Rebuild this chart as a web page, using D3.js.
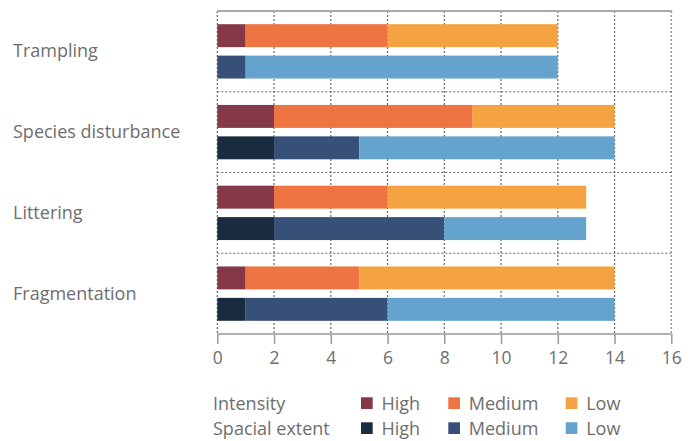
<!DOCTYPE html>
<html><head><meta charset="utf-8">
<script src="https://cdn.jsdelivr.net/npm/d3@7"></script>
<style>
html,body{margin:0;padding:0;background:#fff;}
svg{display:block;font-family:"Open Sans",sans-serif;}
</style></head>
<body>
<svg id="chart" width="691" height="441"></svg>
<script>
const categories = ["Trampling","Species disturbance","Littering","Fragmentation"];
const seriesNames = ["Intensity","Spacial extent"];
const levels = ["High","Medium","Low"];
// values per category: [High, Medium, Low]
const intensityValues = [[1,5,6],[2,7,5],[2,4,7],[1,4,9]];
const spatialValues = [[0,1,11],[2,3,9],[2,6,5],[1,5,8]];
const xTicks = [0,2,4,6,8,10,12,14,16];
const intensityColors = ["#843848","#EE7442","#F5A342"];
const spatialColors = ["#1A2C40","#375078","#63A3CD"];

const svg = d3.select("#chart");
const m = {left:217.3, right:691-671.3, top:11, bottom:441-334};
const W = 691, H = 441;
const x = d3.scaleLinear().domain([0,16]).range([m.left, W-m.right]);
const y = d3.scaleBand().domain(categories).range([m.top, H-m.bottom]).padding(0);
const yi = d3.scaleBand().domain(seriesNames).range([0, y.bandwidth()]).paddingInner(0.27).paddingOuter(0.42);
const textColor = "#6e6e6e";

// vertical grid
svg.append("g").selectAll("line").data(xTicks).join("line")
  .attr("x1", d=>x(d)).attr("x2", d=>x(d))
  .attr("y1", m.top).attr("y2", H-m.bottom)
  .attr("stroke", d=> d===16 ? "#999" : "#666").attr("stroke-width", d=> d===16?1.5:1.2)
  .attr("stroke-dasharray","2,2");

// horizontal separators
svg.append("g").selectAll("line").data(categories.slice(1)).join("line")
  .attr("x1", x(0)).attr("x2", x(16)+1)
  .attr("y1", d=>y(d)).attr("y2", d=>y(d))
  .attr("stroke","#666").attr("stroke-width",1.2).attr("stroke-dasharray","2,2");

// top line
svg.append("line").attr("x1", x(0)).attr("x2", x(16)+1)
  .attr("y1", m.top).attr("y2", m.top).attr("stroke","#aaa").attr("stroke-width",2);

// bars
function stackRows(vals){
  return vals.map(v=>{let s=0; return v.map(d=>{const r=[s,s+d]; s+=d; return r;});});
}
const groups = [
  {name:seriesNames[0], stacks:stackRows(intensityValues), colors:intensityColors},
  {name:seriesNames[1], stacks:stackRows(spatialValues), colors:spatialColors}
];
groups.forEach(g=>{
  categories.forEach((c,ci)=>{
    svg.append("g").selectAll("rect").data(g.stacks[ci]).join("rect")
      .attr("x", d=>x(d[0])).attr("width", d=>x(d[1])-x(d[0]))
      .attr("y", y(c)+yi(g.name)).attr("height", yi.bandwidth())
      .attr("fill", (d,i)=>g.colors[i]);
  });
});

// x axis
const ax = svg.append("g").attr("transform",`translate(0,${H-m.bottom})`)
  .call(d3.axisBottom(x).tickValues(xTicks).tickSize(10).tickPadding(8).tickFormat(d3.format("d")));
ax.select(".domain").attr("stroke","#999").attr("stroke-width",1.5).attr("d",`M${x(0)},0H${x(16)}`);
ax.selectAll(".tick line").attr("stroke","#999").attr("stroke-width",1.5);
ax.selectAll(".tick text").attr("fill",textColor).attr("font-size",17.5).attr("font-family","'Open Sans',sans-serif");

// category labels
svg.append("g").selectAll("text").data(categories).join("text")
  .attr("x",13).attr("y", d=>y(d)+y.bandwidth()/2+6)
  .attr("fill",textColor).attr("font-size",18).text(d=>d);

// legend
const legY = [410, 435];
const legCols = [361, 448.3, 565.7];
const legColors = [intensityColors, spatialColors];
seriesNames.forEach((s,si)=>{
  svg.append("text").attr("x",213).attr("y",legY[si]).attr("fill",textColor).attr("font-size",18).text(s);
  levels.forEach((l,li)=>{
    svg.append("rect").attr("x",legCols[li]).attr("y",legY[si]-12.7).attr("width",11.7).attr("height",11.7).attr("fill",legColors[si][li]);
    svg.append("text").attr("x",legCols[li]+20.5).attr("y",legY[si]).attr("fill",textColor).attr("font-size",18).text(l);
  });
});
</script>
</body></html>
